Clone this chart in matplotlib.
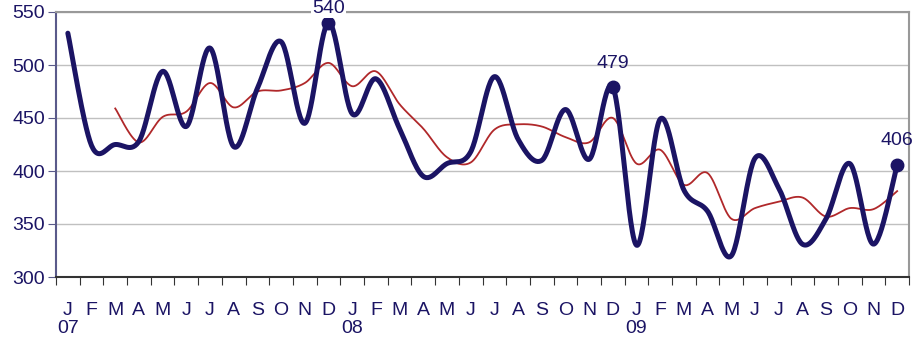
import numpy as np
import matplotlib.pyplot as plt

# monthly values Jan 07 - Dec 09
months = ["J", "F", "M", "A", "M", "J", "J", "A", "S", "O", "N", "D"] * 3
years = ["07", "08", "09"]

serie = [530, 424, 425, 428, 494, 442, 516, 423, 478, 522, 445, 540,
         454, 487, 440, 395, 407, 418, 489, 430, 410, 458, 411, 479,
         330, 449, 382, 362, 320, 412, 384, 331, 355, 407, 331, 406]

# media movil (empieza en marzo 07)
media = [459, 427, 451, 456, 483, 460, 475, 476, 483, 502,
         480, 494, 463, 440, 413, 408, 439, 444, 442, 432, 427, 450,
         407, 420, 387, 398, 355, 365, 371, 375, 357, 365, 364, 381]

etiquetas = {11: "540", 23: "479", 35: "406"}

navy = "#1b1464"
rojo = "#b0282a"


def suavizar(x, y, n=30):
    # curva tipo "linea suavizada" de Excel (bezier con tension 1/6)
    x = np.asarray(x, float)
    y = np.asarray(y, float)
    P = np.column_stack([x, y])
    Pe = np.vstack([P[0], P, P[-1]])
    t = np.linspace(0, 1, n)[:, None]
    out = []
    for i in range(len(P) - 1):
        p0 = Pe[i + 1]
        p3 = Pe[i + 2]
        c1 = p0 + (Pe[i + 2] - Pe[i]) / 6
        c2 = p3 - (Pe[i + 3] - Pe[i + 1]) / 6
        seg = (1 - t)**3 * p0 + 3 * (1 - t)**2 * t * c1 + 3 * (1 - t) * t**2 * c2 + t**3 * p3
        out.append(seg)
    out = np.vstack(out)
    return out[:, 0], out[:, 1]


plt.rcParams['font.family'] = ['Liberation Sans Narrow', 'Liberation Sans', 'DejaVu Sans']

fig = plt.figure(figsize=(9.19, 3.37), dpi=100)
ax = fig.add_axes([56 / 919, 1 - 277 / 337, 853 / 919, 265 / 337])

xs = np.arange(len(serie)) + 0.5
xm = np.arange(2, 2 + len(media)) + 0.5

sx, sy = suavizar(xm, media)
ax.plot(sx, sy, color=rojo, lw=1.3, zorder=3)
sx, sy = suavizar(xs, serie)
ax.plot(sx, sy, color=navy, lw=3.6, zorder=4, solid_capstyle='round')

for i, txt in etiquetas.items():
    ax.plot(xs[i], serie[i], 'o', color=navy, ms=9, zorder=5, clip_on=False)
    off = 14 if i == 11 else 24
    ax.annotate(txt, (xs[i], serie[i]), xytext=(0, off), textcoords='offset pixels',
                ha='center', va='center', color=navy, fontsize=14, zorder=6,
                annotation_clip=False,
                bbox=dict(boxstyle='square,pad=0.05', fc='white', ec='none') if i == 11 else None)

ax.set_xlim(0, 36)
ax.set_ylim(300, 550)
ax.set_yticks(range(300, 551, 50))
ax.grid(axis='y', color='#c0c0c0', lw=1)
ax.set_axisbelow(True)

ax.set_xticks(range(0, 37))
ax.set_xticklabels([])
ax.set_xticks(xs, minor=True)
labs = []
for i, m in enumerate(months):
    if i % 12 == 0:
        labs.append(m + "\n" + years[i // 12])
    else:
        labs.append(m)
ax.set_xticklabels(labs, minor=True, fontsize=14, color=navy, linespacing=1.05)
ax.tick_params(axis='x', which='major', length=6, color='#333333', direction='out')
ax.tick_params(axis='x', which='minor', length=0, pad=18)
ax.tick_params(axis='y', length=6, color='#5a5a8a', labelsize=14, labelcolor=navy, pad=2)

ax.spines['left'].set_color('#5a5a8a')
ax.spines['bottom'].set_color('#333333')
ax.spines['top'].set_color('#999999')
ax.spines['right'].set_color('#999999')
for s in ax.spines.values():
    s.set_linewidth(1.5)

fig.savefig("out.png", dpi=100)
